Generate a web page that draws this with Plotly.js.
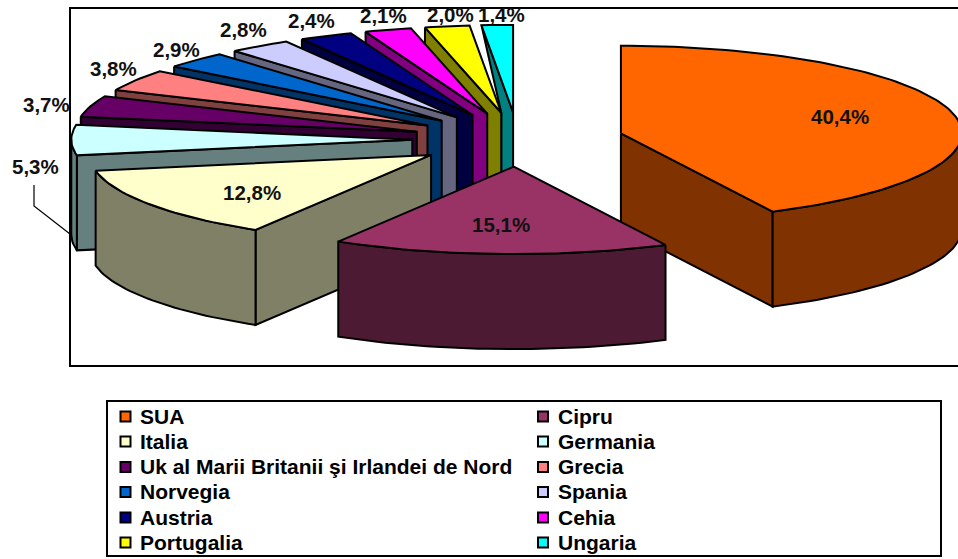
<!DOCTYPE html>
<html><head><meta charset="utf-8">
<script src="https://cdn.plot.ly/plotly-3.0.1.min.js"></script>
<style>html,body{margin:0;padding:0;background:#fff}#c{width:958px;height:559px}</style>
</head><body><div id="c"></div>
<script>
// Data
const countries = ['SUA','Cipru','Italia','Germania','Uk al Marii Britanii şi Irlandei de Nord','Grecia','Norvegia','Spania','Austria','Cehia','Portugalia','Ungaria'];
const shares = [40.4,15.1,12.8,5.3,3.7,3.8,2.9,2.8,2.4,2.1,2.0,1.4];
const valueLabels = ['40,4%','15,1%','12,8%','5,3%','3,7%','3,8%','2,9%','2,8%','2,4%','2,1%','2,0%','1,4%'];
// Style
const topColors = ['#FF6600','#993366','#FFFFCC','#CCFFFF','#660066','#FF8080','#0066CC','#CCCCFF','#000080','#FF00FF','#FFFF00','#00FFFF'];
const wallColors = ['#803300','#4D1A33','#808066','#668080','#330033','#804040','#003366','#666680','#000040','#800080','#808000','#008080'];
const paintOrder = [11,10,9,8,7,6,5,4,3,0,2,1];
// Pie projection
const cx=518, cy=139.5, rx=341, ry=87.5, depth=95, pull=0.31, edge=2;
const labelNudgeX = [7,-4,0,-12,-21,-1,-2,-2,-4,2,7,5];
const labelNudgeY = [-4,2,6,34,6,-4,-3,-9,-8,-6,-4,-3];
const rad = d => d*Math.PI/180;
const total = shares.reduce((a,b)=>a+b,0);
let run = 0;
const slices = shares.map(v=>{const s=run/total*360; run+=v; const e=run/total*360; const m=(s+e)/2;
  return {s,e,m,ax:cx+pull*rx*Math.sin(rad(m)),ay:cy-pull*ry*Math.cos(rad(m))};});
const rimX=(sl,t,k=1)=>sl.ax+rx*k*Math.sin(rad(t));
const rimY=(sl,t,k=1)=>sl.ay-ry*k*Math.cos(rad(t));
function poly(xs,ys,color){return {type:'scatter',mode:'lines',x:[...xs,xs[0]],y:[...ys,ys[0]],fill:'toself',fillcolor:color,
  line:{color:'#000',width:edge},hoverinfo:'skip',showlegend:false};}
function arcAngles(a,b){const out=[];const n=Math.max(2,Math.ceil((b-a)/1.5));for(let i=0;i<=n;i++)out.push(a+(b-a)*i/n);return out;}
const traces=[];
paintOrder.forEach(i=>{
  const sl=slices[i];
  // radial faces
  if(Math.sin(rad(sl.s))<-1e-6){
    const cX=rimX(sl,sl.s), cY=rimY(sl,sl.s);
    if(i===shares.length-1){
      const nx=slices[i-1];
      traces.push(poly([cX,nx.ax,nx.ax,sl.ax,sl.ax],[cY,nx.ay,nx.ay+depth,sl.ay+depth,sl.ay],wallColors[i]));
    } else {
      traces.push(poly([cX,cX,sl.ax,sl.ax],[cY,cY+depth,sl.ay+depth,sl.ay],wallColors[i]));
    }
  }
  if(Math.sin(rad(sl.e))>1e-6){
    const cX=rimX(sl,sl.e), cY=rimY(sl,sl.e);
    traces.push(poly([sl.ax,sl.ax,cX,cX],[sl.ay,sl.ay+depth,cY+depth,cY],wallColors[i]));
  }
  // outer wall
  const a=Math.max(sl.s,90), b=Math.min(sl.e,270);
  if(b>a){
    const ts=arcAngles(a,b);
    const xs=ts.map(t=>rimX(sl,t)), ys=ts.map(t=>rimY(sl,t));
    traces.push(poly([...xs,...xs.slice().reverse()],[...ys,...ys.slice().reverse().map(y=>y+depth)],wallColors[i]));
  }
  // top
  const ts=arcAngles(sl.s,sl.e);
  traces.push(poly([sl.ax,...ts.map(t=>rimX(sl,t))],[sl.ay,...ts.map(t=>rimY(sl,t))],topColors[i]));
});
// Legend
const legendRows=[416.5,441.5,467,492,517.5,542.5], legendCols=[125.5,543], legendTextGap=12.5;
const legX=countries.map((_,i)=>legendCols[i%2]), legY=countries.map((_,i)=>legendRows[Math.floor(i/2)]);
traces.push({type:'scatter',mode:'markers',x:legX,y:legY,hoverinfo:'skip',showlegend:false,
  marker:{symbol:'square',size:10,color:topColors,line:{color:'#000',width:2}}});
const font={family:'"Liberation Sans",Arial,sans-serif',size:20.5,color:'#111'};
const annotations=countries.map((c,i)=>({xref:'x',yref:'y',x:legX[i]+legendTextGap,y:legY[i]-0.5,text:'<b>'+c+'</b>',showarrow:false,xanchor:'left',yanchor:'middle',
  font:{family:font.family,size:21,color:'#000'}}));
valueLabels.forEach((t,i)=>{
  const sl=slices[i]; const inner=i<3;
  const x=inner?rimX(sl,sl.m,0.64):rimX(sl,sl.m,1.07);
  const y=inner?rimY(sl,sl.m,0.64):rimY(sl,sl.m,1)-8;
  annotations.push({xref:'x',yref:'y',x:x+labelNudgeX[i],y:y+labelNudgeY[i],text:'<b>'+t+'</b>',showarrow:false,xanchor:'center',yanchor:'middle',font});
});
const shapes=[
 {type:'rect',layer:'above',xref:'x',yref:'y',x0:70,x1:962,y0:8,y1:366,line:{color:'#000',width:2}},
 {type:'rect',layer:'above',xref:'x',yref:'y',x0:107,x1:941,y0:401,y1:556,line:{color:'#000',width:2}},
 {type:'path',layer:'above',xref:'x',yref:'y',path:'M34,185 L34,206 L70,234',line:{color:'#000',width:1.2}}
];
Plotly.newPlot('c',traces,{width:958,height:559,margin:{l:0,r:0,t:0,b:0},paper_bgcolor:'#fff',plot_bgcolor:'#fff',showlegend:false,
  xaxis:{range:[0,958],visible:false,fixedrange:true},yaxis:{range:[559,0],visible:false,fixedrange:true},annotations,shapes},{staticPlot:true});
</script></body></html>
